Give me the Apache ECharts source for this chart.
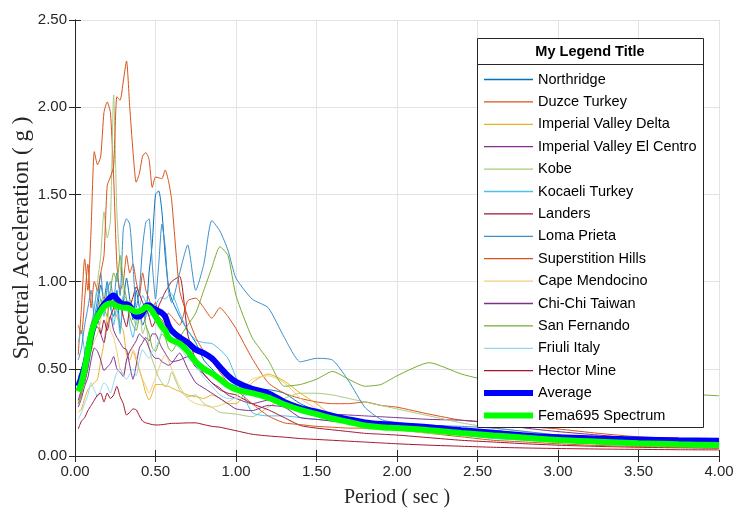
<!DOCTYPE html>
<html>
<head>
<meta charset="utf-8">
<script src="https://cdn.jsdelivr.net/npm/echarts@6/dist/echarts.min.js"></script>
<style>
  html, body { margin: 0; padding: 0; background: #fff; }
  #chart { width: 734px; height: 508px; }
</style>
</head>
<body>
<div id="chart"></div>
<script>
// Periods (sec) shared by every spectrum
const periods = [0.02,0.04,0.06,0.08,0.10,0.12,0.14,0.16,0.18,0.20,0.22,0.24,0.26,0.28,0.30,0.32,0.34,0.36,0.38,0.40,
  0.42,0.44,0.46,0.48,0.50,0.52,0.54,0.56,0.58,0.60,0.65,0.70,0.75,0.80,0.85,0.90,0.95,1.00,
  1.1,1.2,1.3,1.4,1.5,1.6,1.7,1.8,1.9,2.0,2.2,2.4,2.6,2.8,3.0,3.25,3.5,3.75,4.0];

// Spectral acceleration (g) of each record
const northridge = [0.45,0.50,0.55,0.62,0.70,0.78,0.85,0.98,0.90,1.00,0.85,0.80,0.95,0.72,0.88,1.02,0.90,0.78,0.95,0.85,
  0.75,0.80,1.05,1.22,1.50,1.52,1.40,1.15,0.98,0.90,0.80,0.72,0.65,0.55,0.50,0.45,0.42,0.40,
  0.35,0.38,0.36,0.30,0.26,0.23,0.21,0.20,0.19,0.17,0.155,0.14,0.12,0.10,0.09,0.08,0.075,0.07,0.065];
const duzceTurkey = [0.58,0.85,1.13,0.95,1.30,1.745,1.67,1.72,1.97,2.03,1.97,1.60,1.10,0.95,1.00,1.15,1.05,1.10,1.00,0.92,
  1.05,0.95,0.90,0.85,0.88,0.80,0.78,0.75,0.82,0.80,0.75,0.89,0.905,0.85,0.79,0.85,0.80,0.73,
  0.56,0.42,0.36,0.33,0.31,0.30,0.30,0.31,0.29,0.28,0.24,0.205,0.19,0.17,0.155,0.13,0.11,0.10,0.095];
const imperialValleyDelta = [0.25,0.27,0.33,0.38,0.40,0.42,0.44,0.55,0.65,0.80,0.93,0.85,0.80,0.75,0.72,0.58,0.55,0.60,0.55,0.49,
  0.43,0.36,0.32,0.36,0.41,0.41,0.41,0.40,0.40,0.39,0.37,0.35,0.34,0.33,0.35,0.33,0.30,0.30,
  0.42,0.47,0.43,0.36,0.30,0.23,0.20,0.18,0.17,0.16,0.14,0.13,0.12,0.11,0.10,0.095,0.09,0.09,0.09];
const imperialValleyElCentro = [0.32,0.38,0.42,0.50,0.61,0.72,0.80,0.70,0.65,0.75,0.80,0.72,0.68,0.65,0.62,0.61,0.52,0.44,0.52,0.62,
  0.65,0.68,0.66,0.70,0.70,0.66,0.62,0.59,0.56,0.54,0.55,0.57,0.51,0.47,0.42,0.39,0.35,0.33,
  0.30,0.32,0.31,0.27,0.25,0.24,0.235,0.23,0.225,0.22,0.21,0.205,0.19,0.16,0.14,0.12,0.10,0.09,0.08];
const kobe = [0.38,0.45,0.55,0.65,0.75,0.85,1.00,1.15,1.40,1.25,1.35,2.07,1.40,1.10,0.95,0.85,0.90,0.80,0.75,0.85,
  0.70,0.75,0.62,0.55,0.50,0.45,0.42,0.40,0.42,0.48,0.38,0.34,0.35,0.30,0.28,0.25,0.245,0.24,
  0.225,0.28,0.33,0.36,0.36,0.35,0.33,0.31,0.29,0.27,0.23,0.19,0.16,0.14,0.12,0.10,0.09,0.08,0.07];
const kocaeliTurkey = [0.65,0.72,0.60,0.55,0.68,0.85,0.95,0.90,0.80,0.98,0.90,0.75,0.85,0.70,0.92,0.90,0.75,0.68,0.78,0.85,
  0.92,0.88,0.80,0.84,0.86,0.90,0.91,0.90,0.92,0.93,0.82,0.72,0.665,0.65,0.645,0.61,0.56,0.45,
  0.25,0.23,0.23,0.22,0.21,0.20,0.19,0.18,0.17,0.16,0.14,0.12,0.10,0.09,0.08,0.07,0.06,0.055,0.05];
const landers = [0.30,0.36,0.45,0.55,0.63,0.72,0.74,0.70,0.78,0.72,0.80,0.85,0.92,0.88,0.80,0.74,0.85,0.91,0.97,0.93,
  0.88,0.85,0.80,0.74,0.78,0.86,0.90,0.94,0.97,1.00,1.03,0.70,0.55,0.47,0.42,0.38,0.36,0.35,
  0.30,0.265,0.22,0.175,0.16,0.15,0.14,0.13,0.125,0.12,0.105,0.09,0.08,0.07,0.062,0.055,0.05,0.047,0.045];
const lomaPrieta = [0.55,0.62,0.75,0.85,0.95,0.80,0.90,1.05,0.85,0.95,1.00,0.88,1.05,0.92,1.30,1.36,1.33,1.10,0.85,0.95,
  1.20,1.34,1.36,1.10,0.90,1.10,1.33,1.20,0.95,0.88,1.05,1.21,0.95,1.10,1.35,1.29,1.18,1.02,
  0.90,0.85,0.68,0.54,0.56,0.55,0.43,0.28,0.21,0.19,0.175,0.17,0.16,0.14,0.12,0.10,0.09,0.085,0.08];
const superstitionHills = [0.75,0.70,0.90,1.10,0.85,1.00,0.95,1.05,1.15,1.55,1.60,1.66,2.06,2.04,2.15,2.265,2.00,1.75,1.57,1.62,
  1.72,1.74,1.70,1.54,1.60,1.595,1.59,1.64,1.58,1.47,0.95,0.80,0.68,0.60,0.55,0.48,0.42,0.38,
  0.30,0.23,0.19,0.18,0.17,0.165,0.16,0.16,0.155,0.15,0.13,0.11,0.09,0.08,0.07,0.06,0.055,0.05,0.045];
const capeMendocino = [0.30,0.35,0.45,0.55,0.60,0.66,0.70,0.78,0.94,0.85,0.72,0.68,0.60,0.50,0.47,0.55,0.60,0.61,0.57,0.50,
  0.44,0.40,0.36,0.40,0.45,0.50,0.55,0.58,0.55,0.50,0.40,0.33,0.30,0.29,0.28,0.29,0.31,0.34,
  0.44,0.46,0.42,0.33,0.27,0.22,0.19,0.17,0.16,0.15,0.13,0.12,0.11,0.10,0.095,0.09,0.085,0.085,0.085];
const chiChiTaiwan = [0.28,0.33,0.40,0.45,0.55,0.62,0.60,0.55,0.49,0.51,0.53,0.57,0.50,0.48,0.455,0.55,0.60,0.63,0.66,0.70,
  0.68,0.665,0.62,0.58,0.56,0.56,0.54,0.53,0.52,0.53,0.59,0.50,0.42,0.39,0.36,0.33,0.30,0.27,
  0.26,0.29,0.28,0.22,0.21,0.20,0.19,0.18,0.17,0.16,0.145,0.13,0.12,0.11,0.10,0.09,0.08,0.075,0.07];
const sanFernando = [0.30,0.35,0.45,0.55,0.60,0.70,0.78,0.90,0.85,0.80,0.95,1.05,1.00,1.15,1.00,0.90,0.80,0.75,0.72,0.80,
  0.85,0.75,0.70,0.62,0.60,0.65,0.70,0.68,0.62,0.60,0.68,0.75,0.82,0.95,1.08,1.20,1.15,0.92,
  0.68,0.55,0.40,0.41,0.44,0.485,0.44,0.40,0.41,0.46,0.535,0.47,0.427,0.415,0.40,0.385,0.37,0.358,0.345];
const friuliItaly = [0.21,0.25,0.30,0.35,0.42,0.38,0.34,0.38,0.42,0.40,0.36,0.42,0.48,0.50,0.46,0.44,0.47,0.50,0.46,0.55,
  0.61,0.58,0.56,0.60,0.62,0.66,0.72,0.75,0.68,0.65,0.62,0.56,0.52,0.45,0.40,0.35,0.33,0.33,
  0.36,0.37,0.32,0.25,0.23,0.22,0.20,0.19,0.18,0.165,0.15,0.13,0.11,0.095,0.085,0.07,0.06,0.055,0.05];
const hectorMine = [0.155,0.20,0.22,0.26,0.29,0.32,0.35,0.36,0.31,0.36,0.33,0.35,0.40,0.34,0.30,0.235,0.25,0.27,0.265,0.23,
  0.20,0.19,0.185,0.18,0.178,0.178,0.18,0.182,0.185,0.187,0.188,0.19,0.19,0.18,0.17,0.165,0.155,0.145,
  0.125,0.115,0.108,0.10,0.095,0.09,0.085,0.08,0.075,0.07,0.062,0.056,0.05,0.046,0.043,0.04,0.038,0.036,0.035];
const average = [0.40,0.45,0.51,0.60,0.69,0.76,0.80,0.84,0.87,0.89,0.91,0.92,0.90,0.88,0.87,0.87,0.86,0.83,0.80,0.80,
  0.82,0.86,0.865,0.85,0.84,0.83,0.82,0.80,0.75,0.72,0.68,0.65,0.61,0.59,0.56,0.51,0.46,0.425,
  0.385,0.36,0.31,0.275,0.254,0.23,0.21,0.192,0.183,0.178,0.165,0.148,0.133,0.118,0.107,0.10,0.095,0.09,0.087];
const fema695 = [0.37,0.42,0.50,0.60,0.70,0.76,0.80,0.83,0.855,0.87,0.875,0.87,0.86,0.855,0.85,0.85,0.845,0.835,0.827,0.83,
  0.84,0.855,0.85,0.83,0.80,0.77,0.74,0.72,0.68,0.665,0.645,0.60,0.54,0.50,0.474,0.44,0.405,0.382,
  0.36,0.335,0.295,0.265,0.24,0.215,0.195,0.175,0.165,0.16,0.148,0.132,0.118,0.105,0.092,0.082,0.073,0.067,0.063];

const records = [
  ['Northridge', northridge, '#0072BD'],
  ['Duzce Turkey', duzceTurkey, '#D95319'],
  ['Imperial Valley Delta', imperialValleyDelta, '#EDB120'],
  ['Imperial Valley El Centro', imperialValleyElCentro, '#7E2F8E'],
  ['Kobe', kobe, '#A9CB7F'],
  ['Kocaeli Turkey', kocaeliTurkey, '#4DBEEE'],
  ['Landers', landers, '#A2142F'],
  ['Loma Prieta', lomaPrieta, '#3D8FCB'],
  ['Superstition Hills', superstitionHills, '#D95319'],
  ['Cape Mendocino', capeMendocino, '#F3CD7B'],
  ['Chi-Chi Taiwan', chiChiTaiwan, '#7E2F8E'],
  ['San Fernando', sanFernando, '#77AC30'],
  ['Friuli Italy', friuliItaly, '#97D7F2'],
  ['Hector Mine', hectorMine, '#A2142F']
];

const pairs = vals => periods.map((p, i) => [p, vals[i]]);

const series = records.map(([name, vals, color]) => ({
  name, type: 'line', data: pairs(vals), symbol: 'none', smooth: 0.2,
  lineStyle: { color, width: 1 }, itemStyle: { color }, z: 2
}));
series.push({
  name: 'Average', type: 'line', data: pairs(average), symbol: 'none', smooth: 0.3,
  lineStyle: { color: '#0000FF', width: 6 }, itemStyle: { color: '#0000FF' }, z: 3
});
series.push({
  name: 'Fema695 Spectrum', type: 'line', data: pairs(fema695), symbol: 'none', smooth: 0.3,
  lineStyle: { color: '#00FF00', width: 6 }, itemStyle: { color: '#00FF00' }, z: 4
});

// Legend entries: thin samples for records, thick ones for the two reference spectra
const legendItems = series.map(s => ({
  name: s.name,
  lineStyle: { width: s.lineStyle.width > 1 ? 6 : 1.3 }
}));

const axisColor = '#262626';
const tickFont = { fontFamily: 'Liberation Sans, Arial, sans-serif', fontSize: 15, color: axisColor };
const nameFont = { fontFamily: 'Liberation Serif, Times New Roman, serif', fontSize: 20, color: axisColor };

const chart = echarts.init(document.getElementById('chart'), null, { renderer: 'canvas' });
chart.setOption({
  animation: false,
  backgroundColor: '#ffffff',
  grid: { left: 75, right: 15, top: 20, bottom: 52, containLabel: false, outerBoundsMode: 'none' },
  xAxis: [{
    type: 'value', min: 0, max: 4, interval: 0.5,
    name: 'Period ( sec )', nameLocation: 'middle', nameGap: 32, nameTextStyle: nameFont,
    nameMoveOverlap: false,
    axisLine: { lineStyle: { color: axisColor } },
    axisTick: { inside: true, length: 6, lineStyle: { color: axisColor } },
    axisLabel: Object.assign({ margin: 8, formatter: v => v.toFixed(2) }, tickFont),
    splitLine: { show: true, lineStyle: { color: '#e3e3e3' } }
  }, {
    type: 'value', min: 0, max: 4, interval: 0.5, position: 'top',
    axisLine: { lineStyle: { color: axisColor } },
    axisTick: { inside: true, length: 6, lineStyle: { color: axisColor } },
    axisLabel: { show: false }, splitLine: { show: false }
  }],
  yAxis: [{
    type: 'value', min: 0, max: 2.5, interval: 0.5,
    name: 'Spectral Acceleration ( g )', nameLocation: 'middle', nameGap: 42,
    nameMoveOverlap: false,
    nameTextStyle: Object.assign({}, nameFont, { fontSize: 23 }),
    axisLine: { show: true, lineStyle: { color: axisColor } },
    axisTick: { show: true, inside: true, length: 6, lineStyle: { color: axisColor } },
    axisLabel: Object.assign({ margin: 8, formatter: v => v.toFixed(2) }, tickFont),
    splitLine: { show: true, lineStyle: { color: '#e3e3e3' } }
  }, {
    type: 'value', min: 0, max: 2.5, interval: 0.5, position: 'right',
    axisLine: { show: true, lineStyle: { color: axisColor } },
    axisTick: { show: true, inside: true, length: 6, lineStyle: { color: axisColor } },
    axisLabel: { show: false }, splitLine: { show: false }
  }],
  legend: {
    orient: 'vertical', left: 481, top: 72, padding: 0, z: 200,
    itemWidth: 49, itemHeight: 14, itemGap: 7.4,
    itemStyle: { opacity: 0 },
    textStyle: { fontFamily: 'Liberation Sans, Arial, sans-serif', fontSize: 14.5, color: '#000', lineHeight: 14 },
    data: legendItems
  },
  graphic: [
    { type: 'rect', z: 100, shape: { x: 477.5, y: 38.5, width: 226, height: 389 },
      style: { fill: '#ffffff', stroke: '#262626', lineWidth: 1 } },
    { type: 'line', z: 101, shape: { x1: 477.5, y1: 64.5, x2: 703.5, y2: 64.5 },
      style: { stroke: '#262626', lineWidth: 1 } },
    { type: 'text', z: 101, x: 590, y: 52,
      style: { text: 'My Legend Title', fill: '#000', align: 'center', verticalAlign: 'middle',
        font: 'bold 14.5px "Liberation Sans", Arial, sans-serif' } }
  ],
  series
});
</script>
</body>
</html>
